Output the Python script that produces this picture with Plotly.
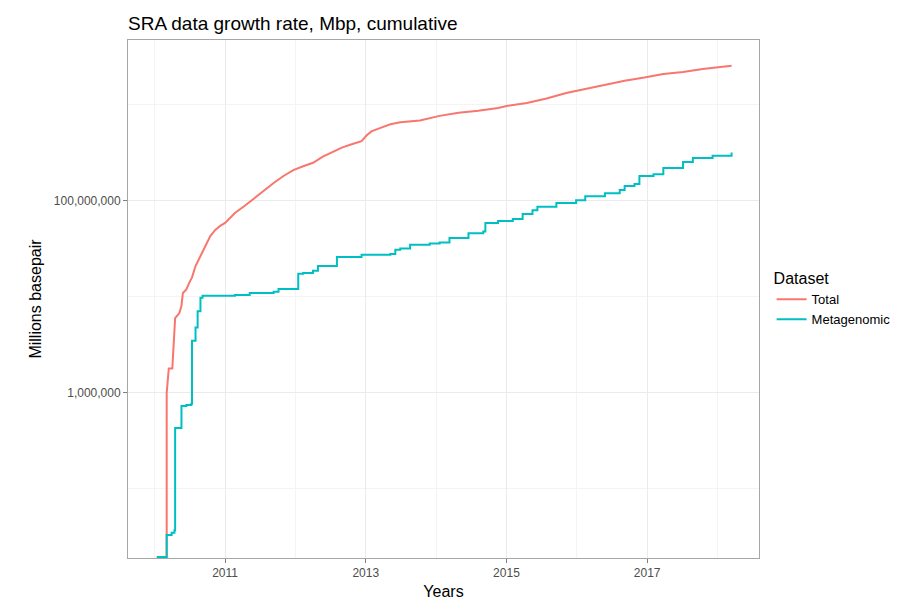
import plotly.graph_objects as go

total_years = [2010.03, 2010.17, 2010.17, 2010.20, 2010.25, 2010.27, 2010.29, 2010.35, 2010.38, 2010.40, 2010.45,
               2010.49, 2010.53, 2010.58, 2010.65, 2010.72, 2010.79, 2010.86, 2010.93, 2011.00, 2011.14,
               2011.28, 2011.42, 2011.55, 2011.69, 2011.83, 2011.97, 2012.11, 2012.25, 2012.39, 2012.52,
               2012.66, 2012.80, 2012.94, 2013.01, 2013.08, 2013.22, 2013.35, 2013.49, 2013.77, 2014.05,
               2014.32, 2014.60, 2014.88, 2015.02, 2015.29, 2015.57, 2015.85, 2016.12, 2016.40, 2016.68,
               2016.96, 2017.23, 2017.51, 2017.79, 2018.20]
total_mbp = [1.95e4, 1.95e4, 1.0e6, 1.8e6, 1.8e6, 2.9e6, 6.0e6, 6.8e6, 8.1e6, 1.1e7, 1.2e7,
             1.4e7, 1.6e7, 2.1e7, 2.7e7, 3.4e7, 4.3e7, 5.0e7, 5.5e7, 5.9e7, 7.5e7,
             8.9e7, 1.08e8, 1.27e8, 1.54e8, 1.82e8, 2.1e8, 2.3e8, 2.5e8, 2.9e8, 3.2e8,
             3.6e8, 3.9e8, 4.2e8, 4.8e8, 5.3e8, 5.8e8, 6.3e8, 6.6e8, 6.9e8, 7.7e8,
             8.3e8, 8.7e8, 9.3e8, 9.8e8, 1.05e9, 1.17e9, 1.33e9, 1.47e9, 1.62e9, 1.79e9,
             1.93e9, 2.1e9, 2.2e9, 2.37e9, 2.56e9]

meta_years = [2010.03, 2010.17, 2010.24, 2010.28, 2010.29, 2010.38, 2010.45, 2010.52, 2010.53, 2010.58,
              2010.61, 2010.65, 2010.68, 2011.14, 2011.35, 2011.69, 2011.76, 2012.04, 2012.11, 2012.25,
              2012.32, 2012.59, 2012.94, 2013.35, 2013.42, 2013.49, 2013.63, 2013.91, 2014.05, 2014.19,
              2014.46, 2014.67, 2014.70, 2014.88, 2015.09, 2015.23, 2015.37, 2015.44, 2015.71, 2015.99,
              2016.12, 2016.40, 2016.61, 2016.68, 2016.82, 2016.89, 2017.09, 2017.23, 2017.51, 2017.65,
              2017.93, 2018.20]
meta_mbp = [1.95e4, 3.3e4, 3.5e4, 3.7e4, 4.3e5, 7.3e5, 7.5e5, 7.7e5, 3.5e6, 4.8e6,
            7.1e6, 9.8e6, 1.03e7, 1.05e7, 1.1e7, 1.13e7, 1.21e7, 1.74e7, 1.78e7, 1.87e7,
            2.1e7, 2.6e7, 2.75e7, 2.8e7, 3.1e7, 3.2e7, 3.5e7, 3.6e7, 3.7e7, 4.1e7,
            4.6e7, 4.8e7, 5.9e7, 6.2e7, 6.5e7, 7.3e7, 8.0e7, 8.7e7, 9.5e7, 1.02e8,
            1.12e8, 1.2e8, 1.3e8, 1.43e8, 1.5e8, 1.82e8, 1.9e8, 2.2e8, 2.55e8, 2.8e8,
            2.95e8, 3.2e8]

x_ticks = [2011, 2013, 2015, 2017]
y_ticks = [1e6, 1e8]
y_labels = ["1,000,000", "100,000,000"]

fig = go.Figure()
fig.add_trace(go.Scatter(x=total_years, y=total_mbp, mode='lines', name='Total',
                         line=dict(color='#F8766D', width=2)))
fig.add_trace(go.Scatter(x=meta_years, y=meta_mbp, mode='lines', name='Metagenomic',
                         line=dict(color='#00BFC4', width=2, shape='hv')))

axis_common = dict(showline=True, mirror=True, linecolor='#a6a6a6', linewidth=1,
                   gridcolor='#ebebeb', zeroline=False, ticks='outside', ticklen=4,
                   tickcolor='#7f7f7f', tickfont=dict(size=12, color='#4d4d4d'),
                   automargin=False)

fig.update_layout(
    width=900, height=600,
    font=dict(family='Liberation Sans, Arial, sans-serif', color='black'),
    plot_bgcolor='white', paper_bgcolor='white',
    margin=dict(l=120, r=132, t=32, b=50),
    title=dict(text='SRA data growth rate, Mbp, cumulative', x=120/900, xanchor='left',
               y=0.975, yanchor='middle', font=dict(size=19)),
    xaxis=dict(range=[2009.62, 2018.59], tickvals=x_ticks,
               title=dict(text='Years', font=dict(size=16), standoff=6),
               minor=dict(tickvals=[2010, 2012, 2014, 2016, 2018], gridcolor='#f4f4f4', ticks=''),
               **axis_common),
    yaxis=dict(type='log', range=[4.28, 9.677], tickvals=y_ticks, ticktext=y_labels,
               title=dict(text='Millions basepair', font=dict(size=16), standoff=8),
               minor=dict(tickvals=[1e5, 1e7, 1e9], gridcolor='#f4f4f4', ticks=''),
               **axis_common),
    legend=dict(x=1.02, y=0.5, xanchor='left', yanchor='middle', tracegroupgap=0,
                title=dict(text='Dataset', font=dict(size=16)), font=dict(size=13),
                itemwidth=30),
)

fig.write_html("out.html")
